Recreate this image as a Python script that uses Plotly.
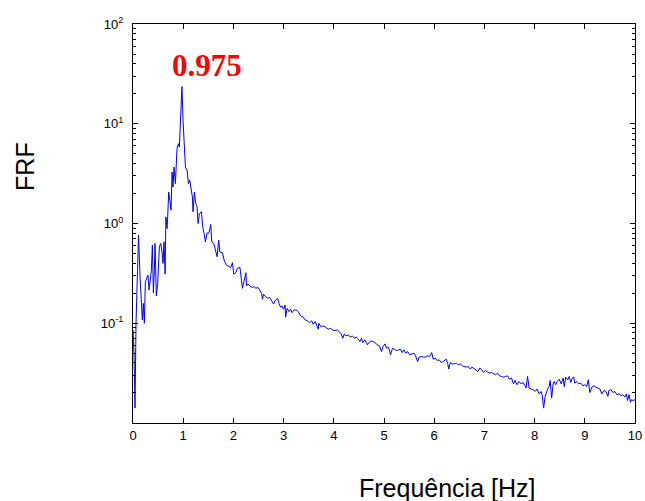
import plotly.graph_objects as go

# Frequency (Hz) and FRF magnitude
freq_hz = [
    0.00, 0.02, 0.04, 0.06, 0.09, 0.11, 0.14, 0.167, 0.186, 0.207, 0.226, 0.246, 0.273, 0.299,
    0.319, 0.346, 0.366, 0.386, 0.406, 0.426, 0.439, 0.465, 0.492, 0.525, 0.552, 0.578, 0.598,
    0.618, 0.640, 0.655, 0.678, 0.691, 0.711, 0.738, 0.758, 0.778, 0.797, 0.817, 0.844, 0.877,
    0.904, 0.924, 0.950, 0.975, 0.997, 1.017, 1.044, 1.077, 1.104, 1.130, 1.150, 1.183, 1.196,
    1.223, 1.250, 1.276, 1.296, 1.323, 1.363, 1.389, 1.416, 1.442, 1.476, 1.509, 1.549, 1.569,
    1.609, 1.635, 1.675, 1.708, 1.728, 1.781, 1.815, 1.861, 1.901, 1.948, 1.981, 2.007, 2.047,
    2.080, 2.13, 2.15, 2.18, 2.21, 2.23, 2.25, 2.26, 2.29, 2.33, 2.37, 2.41, 2.45, 2.49, 2.53,
    2.56, 2.58, 2.60, 2.64, 2.69, 2.72, 2.78, 2.80, 2.84, 2.88,
    2.91, 2.94, 2.97, 3.00, 3.03, 3.04, 3.07, 3.11, 3.14, 3.17, 3.21, 3.25, 3.29, 3.34, 3.39,
    3.43, 3.47, 3.52, 3.56, 3.59, 3.63, 3.65, 3.69, 3.70, 3.74, 3.78, 3.84, 3.89, 3.94, 3.97,
    4.02, 4.07, 4.10, 4.14, 4.18, 4.21, 4.24, 4.29, 4.33, 4.37, 4.41, 4.45, 4.49, 4.52, 4.55,
    4.58, 4.62, 4.67, 4.70, 4.74, 4.78, 4.82, 4.87, 4.91, 4.95, 4.98, 5.02, 5.05, 5.09, 5.13,
    5.17, 5.21, 5.25, 5.29, 5.33, 5.36, 5.40, 5.43, 5.47, 5.51, 5.55, 5.60, 5.63, 5.67, 5.70,
    5.74, 5.78, 5.82, 5.86, 5.91, 5.95, 5.98, 6.02, 6.06, 6.10, 6.14, 6.18, 6.20, 6.24, 6.27,
    6.29, 6.32, 6.36, 6.40, 6.44, 6.48, 6.52, 6.56, 6.60, 6.64, 6.68, 6.72, 6.75, 6.79, 6.83,
    6.87, 6.91, 6.95, 6.98, 7.02, 7.06, 7.10, 7.14, 7.18, 7.22, 7.26, 7.30, 7.34, 7.38, 7.42,
    7.46, 7.50, 7.54, 7.58, 7.61, 7.65, 7.69, 7.73, 7.77, 7.81, 7.83, 7.86, 7.89, 7.93, 7.97,
    8.01, 8.05, 8.09, 8.13, 8.15, 8.18, 8.21, 8.23, 8.26, 8.29, 8.31, 8.34, 8.37, 8.39, 8.42,
    8.45, 8.49, 8.53, 8.57, 8.59, 8.62, 8.66, 8.69, 8.72, 8.75, 8.78, 8.80, 8.84, 8.88, 8.92,
    8.96, 9.00, 9.04, 9.07, 9.10, 9.14, 9.18, 9.22, 9.26, 9.30, 9.34, 9.38, 9.42, 9.46, 9.48,
    9.52, 9.56, 9.60, 9.64, 9.68, 9.72, 9.76, 9.80, 9.83, 9.85, 9.88, 9.91, 9.93, 9.96, 10.00,
]

frf = [
    0.086, 0.050, 0.0141, 0.100, 0.341, 0.764, 0.292, 0.158, 0.108, 0.158, 0.100, 0.261, 0.282, 0.304,
    0.215, 0.316, 0.341, 0.607, 0.202, 0.341, 0.631, 0.188, 0.251, 0.583, 0.631, 0.52, 0.398,
    0.655, 0.311, 1.165, 0.89, 1.165, 2.07, 1.64, 1.36, 3.28, 2.32, 3.68, 2.51, 5.62,
    6.31, 5.84, 12.6, 23.6, 10.8, 5.62, 3.68, 3.41, 2.51, 2.71, 2.42, 1.85, 1.31,
    2.07, 1.58, 1.47, 1.0, 1.26, 1.31, 0.925, 0.794, 0.655, 0.806, 0.794, 0.977, 0.655,
    0.631, 0.562, 0.464, 0.681, 0.52, 0.508, 0.43, 0.383, 0.375, 0.363, 0.404, 0.311, 0.321,
    0.355, 0.363, 0.304, 0.224, 0.261, 0.304, 0.321, 0.236, 0.247, 0.236, 0.229, 0.233, 0.224, 0.229, 0.215,
    0.200, 0.174, 0.196, 0.185, 0.178, 0.182, 0.164, 0.156, 0.171, 0.178,
    0.158, 0.1445, 0.149, 0.138, 0.1525, 0.115, 0.141, 0.1307, 0.138, 0.1277, 0.136, 0.136, 0.131, 0.118, 0.115,
    0.108, 0.106, 0.1014, 0.106, 0.0977, 0.1038, 0.0962, 0.0871, 0.100, 0.0925, 0.094, 0.0912, 0.0871, 0.0891, 0.0857,
    0.0844, 0.0857, 0.0824, 0.0794, 0.0708, 0.0782, 0.0747, 0.0764, 0.0724, 0.0747, 0.0708, 0.0724, 0.0692, 0.0655, 0.0708,
    0.064, 0.0681, 0.0607, 0.064, 0.0665, 0.0655, 0.064, 0.0607, 0.0593, 0.052, 0.0584, 0.0621, 0.0562, 0.0575, 0.0482,
    0.0562, 0.055, 0.0532, 0.0541, 0.055, 0.0508, 0.0541, 0.0501, 0.052, 0.0482, 0.0493, 0.0501, 0.0471, 0.0413, 0.0457,
    0.0464, 0.0457, 0.0457, 0.0471, 0.0464, 0.0508, 0.0436, 0.0447, 0.0423, 0.043, 0.0404, 0.0413, 0.0423, 0.0436, 0.0392,
    0.0347, 0.0404, 0.0392, 0.0392, 0.0398, 0.0383, 0.0392, 0.0374, 0.0368, 0.0363, 0.0368, 0.0347, 0.0363, 0.0355, 0.0341,
    0.0328, 0.0355, 0.0341, 0.0321, 0.0336, 0.0328, 0.0316, 0.0321, 0.0311, 0.0304, 0.0316, 0.0297, 0.0293, 0.0288, 0.0293,
    0.0297, 0.0275, 0.0282, 0.0247, 0.0267, 0.0242, 0.0261, 0.0247, 0.0255, 0.0236, 0.0224, 0.0293, 0.0224, 0.0219, 0.0216,
    0.0207, 0.0219, 0.0196, 0.0207, 0.0192, 0.0141, 0.0185, 0.0202, 0.0219, 0.0232, 0.0267, 0.0178, 0.0247, 0.0261, 0.0242,
    0.0261, 0.0275, 0.0247, 0.0282, 0.0232, 0.0288, 0.0271, 0.0293, 0.0255, 0.0282, 0.0288, 0.0251, 0.0261, 0.0247, 0.0251,
    0.0236, 0.0242, 0.0232, 0.0271, 0.0202, 0.0229, 0.0236, 0.0229, 0.0224, 0.0219, 0.0196, 0.0212, 0.0207, 0.0185, 0.0212,
    0.0216, 0.0202, 0.0207, 0.0192, 0.0196, 0.0188, 0.0192, 0.0182, 0.0196, 0.0168, 0.0192, 0.0161, 0.0171, 0.0168, 0.0171,
]

y_tick_vals = [0.1, 1, 10, 100]
y_tick_text = ["10<sup>-1</sup>", "10<sup>0</sup>", "10<sup>1</sup>", "10<sup>2</sup>"]
y_minor_vals = [k * 10.0 ** e for e in (-2, -1, 0, 1) for k in range(2, 10)]
peak_label = "0.975"

FONT = "Liberation Sans, Arial, sans-serif"

fig = go.Figure()
fig.add_trace(go.Scatter(
    x=freq_hz, y=frf, mode="lines",
    line=dict(color="#0000ff", width=1),
    showlegend=False, hoverinfo="skip",
))

fig.update_layout(
    width=645, height=501,
    margin=dict(l=133, r=10, t=24, b=78, autoexpand=False),
    paper_bgcolor="white", plot_bgcolor="white",
    font=dict(family=FONT, size=13, color="black"),
    xaxis=dict(
        range=[0, 10], tickmode="linear", tick0=0, dtick=1,
        ticks="inside", ticklen=5, tickcolor="black",
        showline=True, linecolor="black", linewidth=1, mirror="ticks",
        showgrid=False, zeroline=False, automargin=False,
        tickfont=dict(family=FONT, size=13, color="black"),
    ),
    yaxis=dict(
        type="log", range=[-2, 2],
        tickmode="array", tickvals=y_tick_vals, ticktext=y_tick_text,
        ticks="inside", ticklen=5, tickcolor="black",
        minor=dict(tickmode="array", tickvals=y_minor_vals, ticks="inside",
                   ticklen=3, tickcolor="black", showgrid=False),
        showline=True, linecolor="black", linewidth=1, mirror="ticks",
        showgrid=False, zeroline=False, automargin=False,
        tickfont=dict(family=FONT, size=13, color="black"),
        ticklabelstandoff=6,
    ),
    annotations=[
        dict(text="Frequência [Hz]", xref="paper", yref="paper",
             x=0.625, y=-0.163, xanchor="center", yanchor="middle",
             showarrow=False, font=dict(family=FONT, size=25, color="black")),
        dict(text="FRF", xref="paper", yref="paper",
             x=-0.215, y=0.642, xanchor="center", yanchor="middle", textangle=-90,
             showarrow=False, font=dict(family=FONT, size=25, color="black")),
        dict(text="<b>" + peak_label + "</b>", xref="paper", yref="paper",
             x=0.147, y=0.895, xanchor="center", yanchor="middle",
             showarrow=False,
             font=dict(family="Liberation Serif, Times New Roman, serif", size=31, color="#ff0000")),
    ],
)

fig.write_html("out.html")
